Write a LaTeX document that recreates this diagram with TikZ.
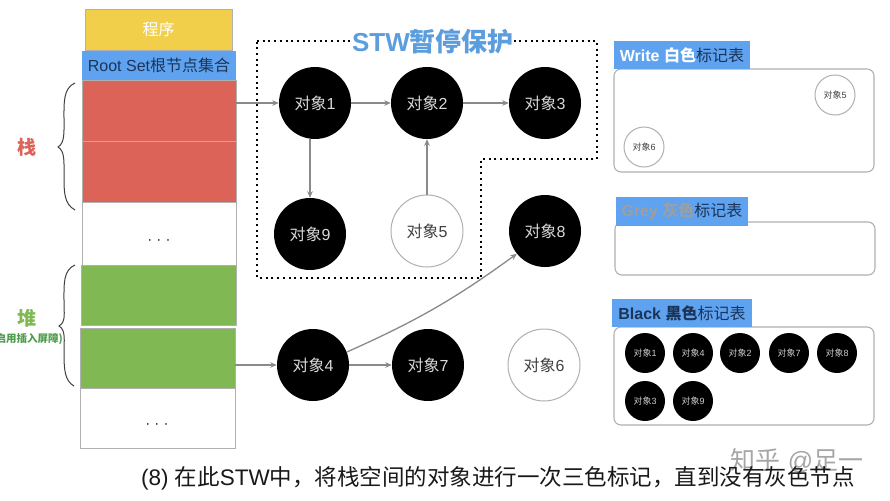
\documentclass[tikz,border=0pt]{standalone}
\usepackage{fontspec}
\setmainfont{Liberation Sans}
\newfontfamily\cjk{Noto Sans CJK SC}
\usetikzlibrary{arrows.meta}
\newcommand{\zh}[1]{{\cjk #1}}
\definecolor{rimgray}{HTML}{B0B0B0}
\definecolor{linkgray}{HTML}{8A8A8A}
\definecolor{tagblue}{HTML}{5FA3F0}
\definecolor{navy}{HTML}{1B3457}
\definecolor{stackred}{HTML}{DC6357}
\definecolor{heapgreen}{HTML}{80B853}
\definecolor{progyellow}{HTML}{F1CF4B}
\definecolor{stwblue}{HTML}{5C9DDE}
\newcommand{\rectnode}[7]{%
  \pgfmathsetmacro{\rw}{#5-#3}\pgfmathsetmacro{\rh}{#6-#4}%
  \pgfmathsetmacro{\rcx}{(#3+#5)/2}\pgfmathsetmacro{\rcy}{(#4+#6)/2}%
  \node[#2,minimum width=\rw pt,minimum height=\rh pt] (#1) at (\rcx,\rcy) {#7};}
\tikzset{
  x=1pt,y=-1pt,
  cell/.style={draw=rimgray,line width=0.9pt,inner sep=0pt,outer sep=0pt},
  prog/.style={cell,fill=progyellow,text=white,font=\fontsize{16}{16}\selectfont},
  rootset/.style={fill=tagblue,inner sep=0pt,outer sep=0pt,text=navy,font=\fontsize{16}{16}\selectfont},
  redcell/.style={cell,fill=stackred},
  greencell/.style={cell,fill=heapgreen},
  whitecell/.style={cell,fill=white},
  ellipsisdots/.style={inner sep=0pt,text=black!85,font=\fontsize{15}{15}\selectfont},
  panel/.style={draw=rimgray,line width=1.1pt,rounded corners=7pt,fill=white,inner sep=0pt},
  tag/.style={fill=tagblue,inner sep=0pt,outer sep=0pt,font=\fontsize{16}{16}\selectfont},
  obj/.style={circle,minimum size=72pt,inner sep=0pt,font=\fontsize{16}{16}\selectfont},
  blackobj/.style={obj,fill=black,text=white!85!black},
  whiteobj/.style={obj,draw=rimgray,line width=1pt,fill=white,text=black!75},
  mini/.style={circle,minimum size=40pt,inner sep=0pt,font=\fontsize{9}{9}\selectfont},
  miniblack/.style={mini,fill=black,text=white!80!black},
  miniwhite/.style={mini,draw=rimgray,line width=1pt,fill=white,text=black!75},
  link/.style={draw=linkgray,line width=1.3pt,-{Stealth[length=6.5pt,width=5.5pt]}},
  guard/.style={draw=black,line width=2pt,dash pattern=on 2pt off 3.7pt},
  brace/.style={draw=black!75,line width=1pt},
}
\begin{document}
\begin{tikzpicture}
\useasboundingbox (0,0) rectangle (890,500);
\fill[white] (0,0) rectangle (890,500);

% memory column
\rectnode{prog}{prog}{85}{9}{232}{50}{\zh{程序}}
\rectnode{r1}{redcell}{82}{80}{236}{141}{}
\rectnode{r2}{redcell}{82}{141}{236}{202}{}
\rectnode{w1}{whitecell}{82}{202}{236}{265}{}
\rectnode{g1}{greencell}{81}{265}{236}{325}{}
\rectnode{g2}{greencell}{80}{328}{235}{388}{}
\rectnode{w2}{whitecell}{80}{388}{235}{448}{}
\rectnode{root}{rootset}{82}{51}{236}{80}{Root Set\zh{根节点集合}}
\node[ellipsisdots] (dots1) at (159,242) {· · ·};
\node[ellipsisdots] (dots2) at (157,426) {· · ·};

% braces and their labels
\draw[brace] (75,83) .. controls (63,88) and (64,104) .. (64,118) .. controls (64,132) and (65,143) .. (58,147) .. controls (65,151) and (64,162) .. (64,176) .. controls (64,192) and (64,204) .. (75,210);
\draw[brace] (75,265) .. controls (63,270) and (64,285) .. (64,300) .. controls (64,314) and (66,322) .. (59,326) .. controls (66,330) and (64,340) .. (64,354) .. controls (64,370) and (65,381) .. (74,386);
\node[text=stackred,font=\cjk\bfseries\fontsize{19}{19}\selectfont,inner sep=0pt] (stacklabel) at (27,147) {栈};
\node[text=heapgreen,font=\cjk\bfseries\fontsize{19}{19}\selectfont,inner sep=0pt] (heaplabel) at (27,318) {堆};
\node[text=green!45!black!70!white,anchor=east,font=\cjk\bfseries\fontsize{10.5}{10.5}\selectfont,inner sep=0pt] (barrier) at (63,339) {(启用插入屏障)};

% STW zone
\draw[guard] (257,41) -- (597,41) -- (597,159) -- (481,159) -- (481,278) -- (257,278) -- cycle;
\node[fill=white,inner sep=0pt,text=stwblue,font=\bfseries\fontsize{26}{26}\selectfont] (stw) at (433,42) {STW\zh{暂停保护}};

% objects
\node[blackobj] (o1) at (315,103) {\zh{对象}1};
\node[blackobj] (o2) at (427,103) {\zh{对象}2};
\node[blackobj] (o3) at (545,103) {\zh{对象}3};
\node[blackobj] (o9) at (310,234) {\zh{对象}9};
\node[whiteobj] (o5) at (427,231) {\zh{对象}5};
\node[blackobj] (o8) at (545,231) {\zh{对象}8};
\node[blackobj] (o4) at (313,365) {\zh{对象}4};
\node[blackobj] (o7) at (428,365) {\zh{对象}7};
\node[whiteobj] (o6) at (544,365) {\zh{对象}6};

% connectors
\draw[link] (r1.east |- o1.west) -- (o1.west);
\draw[link] (o1) -- (o2);
\draw[link] (o2) -- (o3);
\draw[link] (o5) -- (o2);
\draw[link] (o1.south -| o9.north) -- (o9);
\draw[link] (g2.east |- o4.west) -- (o4.west);
\draw[link] (o4) -- (o7);
\draw[link] (o4.21) to[bend right=6] (o8.219);

% White table
\rectnode{wpanel}{panel}{614}{69}{874}{172}{}
\rectnode{wtag}{tag}{614}{41}{750}{69}{\textcolor{white}{\textbf{Write} \zh{\bfseries 白色}}\textcolor{navy}{\zh{标记表}}}
\node[miniwhite] (w5) at (835,95) {\zh{对象}5};
\node[miniwhite] (w6) at (644,147) {\zh{对象}6};

% Grey table
\rectnode{gpanel}{panel}{615}{222}{875}{275}{}
\rectnode{gtag}{tag}{616}{197}{748}{226}{\textcolor{black!38}{\textbf{Grey} \zh{\bfseries 灰色}}\textcolor{navy}{\zh{标记表}}}

% Black table
\rectnode{bpanel}{panel}{614}{327}{874}{425}{}
\rectnode{btag}{tag}{612}{299}{752}{327}{\textcolor{navy}{\textbf{Black} \zh{\bfseries 黑色}\zh{标记表}}}
\node[miniblack] (b1) at (645,353) {\zh{对象}1};
\node[miniblack] (b4) at (693,353) {\zh{对象}4};
\node[miniblack] (b2) at (740,353) {\zh{对象}2};
\node[miniblack] (b7) at (789,353) {\zh{对象}7};
\node[miniblack] (b8) at (837,353) {\zh{对象}8};
\node[miniblack] (b3) at (645,401) {\zh{对象}3};
\node[miniblack] (b9) at (693,401) {\zh{对象}9};

% watermark and caption
\node[text=black!35,inner sep=0pt,font=\fontsize{25}{25}\selectfont] (mark) at (797,461) {\zh{知乎} @\zh{足一}};
\node[text=black!90,anchor=west,inner sep=0pt,font=\fontsize{22.5}{22.5}\selectfont] (caption) at (141,478) {(8) \zh{在此}STW\zh{中，将栈空间的对象进行一次三色标记，直到没有灰色节点}};
\end{tikzpicture}
\end{document}
